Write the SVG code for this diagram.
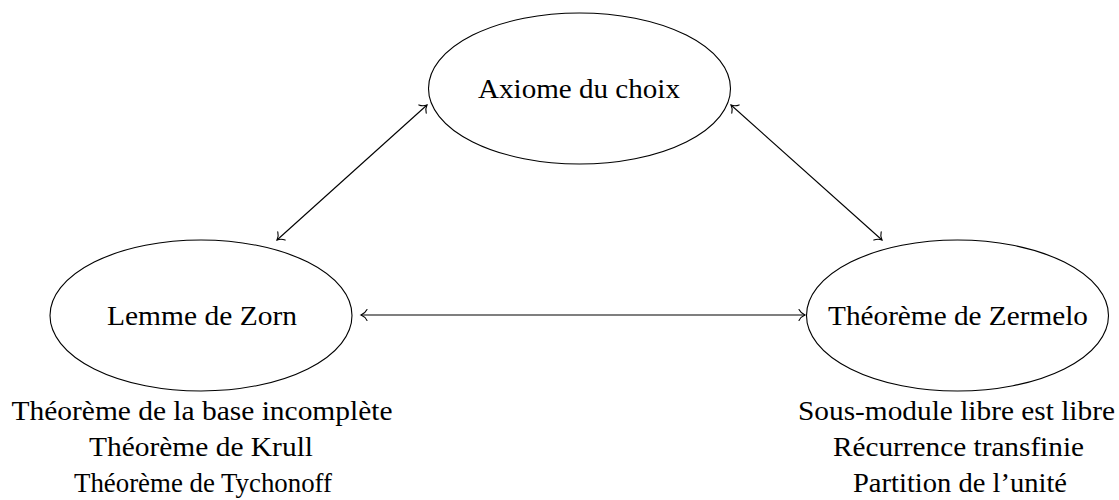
<svg xmlns="http://www.w3.org/2000/svg" width="1119" height="500" viewBox="0 0 1119 500">
  <style>
    .node ellipse { fill: none; stroke: #000; stroke-width: 1.1; }
    text { font-family: "Liberation Serif", "DejaVu Serif", serif; font-size: 28px; fill: #000; text-anchor: middle; }
    .edge { fill: none; stroke: #000; stroke-width: 1.1; marker-start: url(#to); marker-end: url(#to); }
  </style>
  <defs>
    <marker id="to" viewBox="-8 -7 10 14" refX="0" refY="0" markerWidth="10" markerHeight="14" markerUnits="userSpaceOnUse" orient="auto-start-reverse">
      <path d="M-6,-5.5 C-4.5,-2.5 -1.5,-0.6 0,0 C-1.5,0.6 -4.5,2.5 -6,5.5" fill="none" stroke="#000" stroke-width="1.1" stroke-linecap="round"/>
    </marker>
  </defs>
  <g id="connectors">
    <path class="edge" d="M427,105 L277,240"/>
    <path class="edge" d="M731,105 L882,240"/>
    <path class="edge" d="M361,315 L805,315"/>
  </g>
  <g id="axiome">
    <g class="node"><ellipse cx="579.5" cy="88.5" rx="151" ry="75.5"/></g>
    <text x="579" y="98" textLength="202" lengthAdjust="spacingAndGlyphs">Axiome du choix</text>
  </g>
  <g id="zorn">
    <g class="node"><ellipse cx="201" cy="315.5" rx="151" ry="75.5"/></g>
    <text x="202" y="325" textLength="190" lengthAdjust="spacingAndGlyphs">Lemme de Zorn</text>
  </g>
  <g id="zermelo">
    <g class="node"><ellipse cx="957.5" cy="315.5" rx="151" ry="75.5"/></g>
    <text x="958" y="325" textLength="260" lengthAdjust="spacingAndGlyphs">Théorème de Zermelo</text>
  </g>
  <g id="zorn-consequences">
    <text x="202" y="420" textLength="381" lengthAdjust="spacingAndGlyphs">Théorème de la base incomplète</text>
    <text x="201" y="456" textLength="224" lengthAdjust="spacingAndGlyphs">Théorème de Krull</text>
    <text x="203" y="492" textLength="258" lengthAdjust="spacingAndGlyphs">Théorème de Tychonoff</text>
  </g>
  <g id="zermelo-consequences">
    <text x="956.5" y="420" textLength="317" lengthAdjust="spacingAndGlyphs">Sous-module libre est libre</text>
    <text x="958.5" y="456" textLength="251" lengthAdjust="spacingAndGlyphs">Récurrence transfinie</text>
    <text x="960" y="492" textLength="214" lengthAdjust="spacingAndGlyphs">Partition de l’unité</text>
  </g>
</svg>
